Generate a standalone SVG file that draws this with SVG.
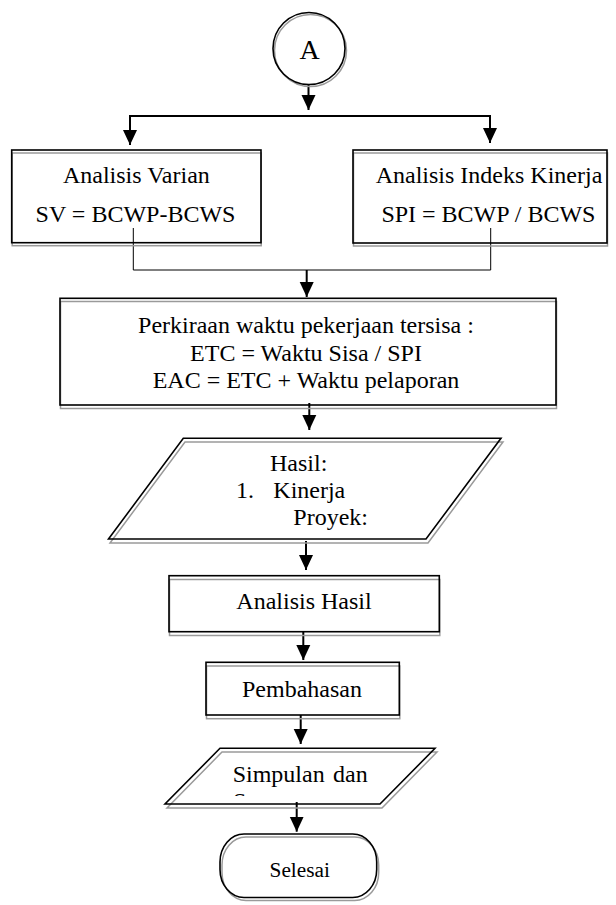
<svg xmlns="http://www.w3.org/2000/svg" width="616" height="905" viewBox="0 0 616 905">
<style>
.sh{fill:none;stroke:#9a9a9a;stroke-width:1.5}
.bd{fill:none;stroke:#000;stroke-width:1.6}
.t{font-family:"Liberation Serif","Times New Roman",serif;font-size:24px;fill:#000}
.c{text-anchor:middle}
.ln{fill:none;stroke:#000;stroke-width:2}
.thin{fill:none;stroke:#000;stroke-width:1}
</style>
<defs>
<marker id="ah" markerUnits="userSpaceOnUse" markerWidth="16" markerHeight="16" viewBox="0 0 16 16" refX="15" refY="8" orient="auto">
<path d="M0,1 L15,8 L0,15 Z" fill="#000"/>
</marker>
<clipPath id="clipS"><rect x="150" y="748" width="300" height="48"/></clipPath>
</defs>
<rect width="616" height="905" fill="#fff"/>

<g id="connectors">
<line class="ln" x1="308.5" y1="84" x2="308.5" y2="110" marker-end="url(#ah)"/>
<polyline class="ln" points="130,145 130,116 490,116 490,143" marker-end="url(#ah)"/>
<line class="ln" x1="130" y1="116" x2="130" y2="145" marker-end="url(#ah)"/>
<polyline class="thin" points="133.3,228 133.3,270 490.7,270 490.7,228"/>
<line class="ln" x1="306.7" y1="270" x2="306.7" y2="297" marker-end="url(#ah)"/>
<line class="ln" x1="309.3" y1="403" x2="309.3" y2="430" marker-end="url(#ah)"/>
<line class="ln" x1="306" y1="541" x2="306" y2="570" marker-end="url(#ah)"/>
<line class="ln" x1="303.3" y1="632" x2="303.3" y2="660" marker-end="url(#ah)"/>
<line class="ln" x1="300.7" y1="715" x2="300.7" y2="744" marker-end="url(#ah)"/>
<line class="ln" x1="296.7" y1="802" x2="296.7" y2="831.7" marker-end="url(#ah)"/>
</g>

<g id="node-A">
<circle class="sh" cx="310.5" cy="50.5" r="36"/>
<circle class="bd" cx="309" cy="48.5" r="36" fill="#fff"/>
<text class="t c" x="309.6" y="59.3" style="font-size:28px">A</text>
</g>

<g id="node-varian">
<rect class="sh" x="12.2" y="153" width="249" height="92.7"/>
<rect class="bd" x="11.7" y="150" width="249.3" height="92.7"/>
<text class="t c" x="136.4" y="182.7">Analisis Varian</text>
<text class="t c" x="135.5" y="221.7">SV = BCWP-BCWS</text>
</g>

<g id="node-indeks">
<rect class="sh" x="353.5" y="153" width="254" height="93"/>
<rect class="bd" x="353" y="150" width="254" height="93"/>
<text class="t c" x="489" y="182.7">Analisis Indeks Kinerja</text>
<text class="t c" x="488.4" y="221.7">SPI = BCWP / BCWS</text>
</g>

<g id="node-perkiraan">
<rect class="sh" x="60.5" y="301.5" width="496" height="107"/>
<rect class="bd" x="60" y="298.3" width="496" height="106.7"/>
<text class="t c" x="306" y="332.7">Perkiraan waktu pekerjaan tersisa :</text>
<text class="t c" x="306" y="360.5">ETC = Waktu Sisa / SPI</text>
<text class="t c" x="306" y="388.3">EAC = ETC + Waktu pelaporan</text>
</g>

<g id="node-hasil">
<polygon class="sh" points="185,442 503,442 428,543 110,543"/>
<polygon class="bd" points="183.3,438.3 501,438.3 426,539 108.5,539"/>
<text class="t" x="270" y="470.7">Hasil:</text>
<text class="t" x="236" y="497.7">1.</text>
<text class="t" x="273.3" y="497.7">Kinerja</text>
<text class="t" x="293.3" y="525">Proyek:</text>
</g>

<g id="node-analisis-hasil">
<rect class="sh" x="169.5" y="579.5" width="270.3" height="56"/>
<rect class="bd" x="169" y="575.7" width="270.3" height="56"/>
<text class="t c" x="304" y="609">Analisis Hasil</text>
</g>

<g id="node-pembahasan">
<rect class="sh" x="206.5" y="666" width="193.3" height="52.7"/>
<rect class="bd" x="206" y="662.3" width="193.3" height="52.7"/>
<text class="t c" x="302" y="697.3">Pembahasan</text>
</g>

<g id="node-simpulan">
<polygon class="sh" points="222,752 437,752 382,808 167,808"/>
<polygon class="bd" points="220,748.3 435,748.3 380,804 165,804"/>
<text class="t" x="232.7" y="781.7" style="word-spacing:2.3px">Simpulan dan</text>
<g clip-path="url(#clipS)"><text class="t" x="233" y="808.7">Saran</text></g>
</g>

<g id="node-selesai">
<rect class="sh" x="222" y="837" width="156.7" height="63.5" rx="24" ry="28"/>
<rect class="bd" x="220" y="834" width="156.7" height="63.5" rx="24" ry="28" fill="#fff"/>
<text class="t c" x="299.7" y="877.3" style="font-size:21.3px">Selesai</text>
</g>
</svg>
